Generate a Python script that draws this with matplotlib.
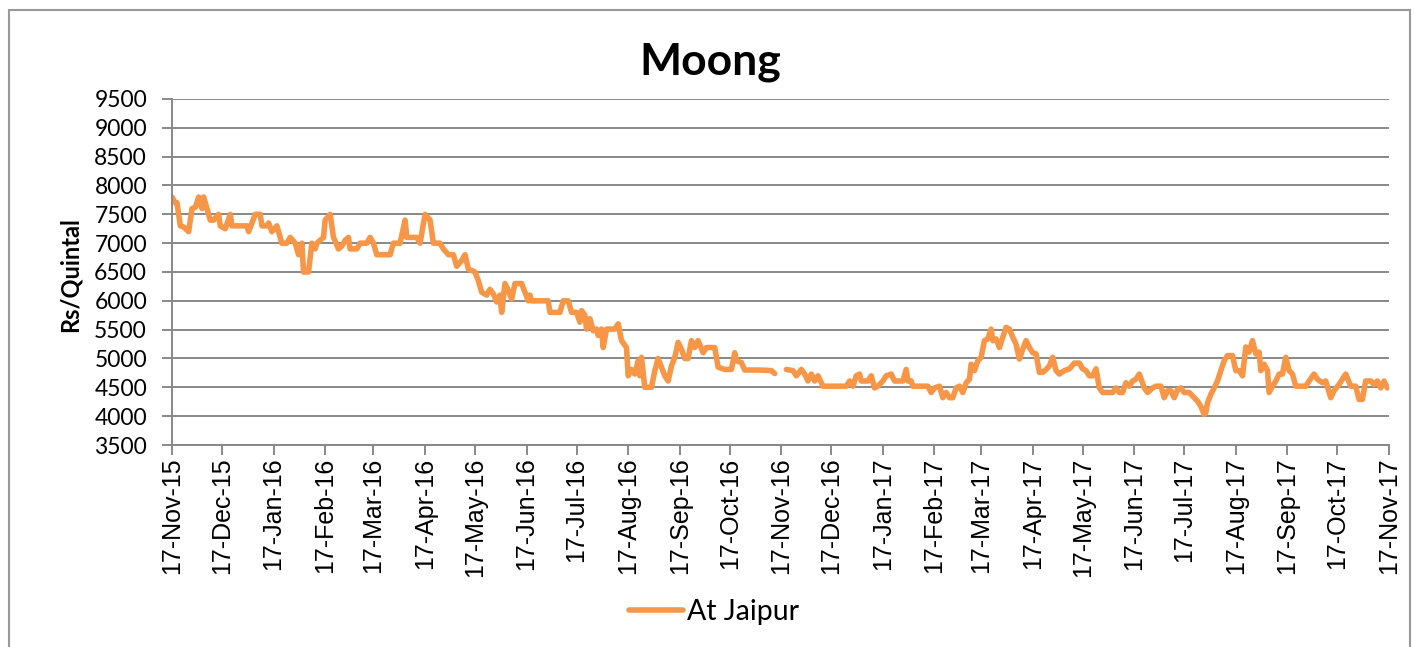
import pandas as pd
import matplotlib.pyplot as plt
from matplotlib.patches import Rectangle

# === DATI (giorni dal 17-Nov-15, Rs/Quintal) ===
start = pd.Timestamp("2015-11-17")

days_a = [0, 1, 2, 3, 5, 7, 10, 12, 14, 16, 18, 19, 23, 25, 28, 29, 32, 35, 36, 45,
          46, 50, 53, 54, 57, 58, 60, 63, 66, 69, 71, 74, 76, 78, 79, 82, 84, 86, 87, 89,
          91, 92, 95, 97, 100, 102, 104, 106, 107, 111, 113, 117, 119, 121, 123, 131, 133, 137, 140, 141,
          147, 149, 152, 155, 157, 161, 163, 166, 169, 171, 174, 176, 178, 182, 184, 186, 189, 191, 193, 195,
          197, 198, 200, 202, 204, 206, 210, 212, 214, 215, 216, 226, 227, 233, 235, 238, 240, 243, 245, 246,
          248, 249, 251, 253, 255, 256, 258, 259, 261, 266, 268, 270, 273, 274, 276, 278, 280, 281, 282, 284,
          288, 290, 292, 294, 296, 298, 300, 302, 304, 306, 308, 310, 312, 314, 316, 319, 321, 326, 328, 332,
          336, 338, 339, 342, 344, 353, 360, 362]
price_a = [7800, 7750, 7700, 7700, 7300, 7280, 7200, 7600, 7620, 7800, 7600, 7800, 7400, 7400, 7500, 7300, 7250, 7500, 7300, 7300,
           7200, 7500, 7500, 7300, 7300, 7350, 7200, 7300, 7000, 7000, 7100, 7000, 6800, 7000, 6500, 6500, 7000, 6900, 7000, 7050,
           7100, 7400, 7500, 7100, 6900, 6950, 7050, 7100, 6900, 6900, 7000, 7000, 7100, 7000, 6800, 6800, 7000, 7000, 7400, 7100,
           7100, 7000, 7500, 7400, 7000, 7000, 6900, 6800, 6800, 6600, 6700, 6800, 6550, 6500, 6350, 6150, 6100, 6200, 6120, 5980,
           6100, 5800, 6300, 6180, 6030, 6300, 6300, 6150, 6000, 6100, 6000, 6000, 5800, 5800, 6000, 6000, 5800, 5800, 5630, 5830,
           5750, 5510, 5690, 5480, 5510, 5400, 5510, 5190, 5510, 5510, 5600, 5310, 5190, 4700, 4810, 4730, 4960, 4700, 5020, 4500,
           4500, 4790, 5000, 4850, 4700, 4610, 4870, 5020, 5280, 5160, 5000, 5000, 5310, 5190, 5310, 5100, 5190, 5190, 4850, 4810,
           4810, 5100, 4960, 4930, 4800, 4800, 4790, 4740]

days_b = [369, 373, 375, 378, 380, 382, 384, 386, 388, 391, 405, 407, 409, 411, 413, 414, 418, 420, 422, 424,
          427, 429, 432, 434, 439, 441, 442, 444, 445, 454, 456, 458, 461, 463, 465, 467, 469, 471, 473, 475,
          477, 479, 480, 482, 484, 486, 488, 490, 492, 493, 495, 497, 499, 501, 503, 505, 507, 509, 511, 513,
          515, 517, 519, 521, 523, 525, 527, 529, 531, 533, 536, 539, 542, 545, 547, 549, 551, 553, 555, 557,
          559, 565, 567, 569, 571, 573, 575, 577, 579, 581, 584, 586, 589, 591, 594, 596, 598, 600, 602, 604,
          606, 608, 611, 613, 616, 618, 620, 621, 622, 624, 626, 628, 630, 632, 634, 637, 639, 641, 643, 645,
          647, 649, 651, 653, 654, 656, 658, 659, 661, 663, 665, 667, 669, 671, 673, 675, 681, 683, 686, 688,
          691, 693, 696, 698, 701, 705, 708, 711, 713, 715, 717, 720, 722, 724, 726, 728, 730]
price_b = [4810, 4790, 4700, 4810, 4730, 4610, 4730, 4610, 4700, 4520, 4520, 4610, 4520, 4700, 4730, 4610, 4610, 4700, 4490, 4520,
           4610, 4700, 4730, 4610, 4610, 4810, 4610, 4610, 4520, 4520, 4410, 4490, 4520, 4320, 4410, 4320, 4320, 4490, 4520, 4410,
           4580, 4640, 4900, 4790, 4960, 5020, 5310, 5340, 5510, 5310, 5340, 5190, 5370, 5540, 5510, 5370, 5250, 4990, 5160, 5310,
           5190, 5100, 5080, 4760, 4760, 4810, 4870, 5020, 4790, 4730, 4790, 4820, 4920, 4920, 4820, 4790, 4700, 4700, 4820, 4490,
           4410, 4410, 4490, 4410, 4410, 4580, 4520, 4610, 4640, 4730, 4490, 4410, 4490, 4520, 4520, 4320, 4440, 4440, 4320, 4460,
           4490, 4410, 4410, 4350, 4260, 4170, 4030, 4060, 4230, 4380, 4490, 4610, 4790, 4960, 5050, 5050, 4790, 4790, 4700, 5200,
           5110, 5310, 5080, 5110, 4790, 4900, 4790, 4410, 4520, 4610, 4730, 4730, 5020, 4790, 4730, 4520, 4520, 4610, 4730, 4640,
           4580, 4610, 4320, 4440, 4550, 4730, 4520, 4520, 4290, 4290, 4610, 4610, 4550, 4610, 4490, 4610, 4490]

# date in formato datetime
date_a = start + pd.to_timedelta(days_a, unit="D")
date_b = start + pd.to_timedelta(days_b, unit="D")
mesi = pd.date_range("2015-11-01", "2017-11-01", freq="MS") + pd.Timedelta(days=16)

ARANCIO = "#F79646"
GRIGIO = "#888888"

fig = plt.figure(figsize=(14.14, 6.47), dpi=100)
ax = fig.add_axes([172 / 1414, 1 - 445 / 647, (1389 - 172) / 1414, (445 - 99) / 647])

ax.plot(date_a, price_a, color=ARANCIO, linewidth=4, solid_joinstyle="round",
        solid_capstyle="round", label="At Jaipur")
ax.plot(date_b, price_b, color=ARANCIO, linewidth=4, solid_joinstyle="round",
        solid_capstyle="round")

ax.set_xlim(mesi[0], mesi[-1])
ax.set_ylim(3500, 9500)
ax.set_yticks(range(3500, 10000, 500))
ax.set_xticks(mesi)
ax.set_xticklabels([d.strftime("%d-%b-%y") for d in mesi], rotation=90,
                   family="Liberation Sans", fontsize=18)
for lbl in ax.get_yticklabels():
    lbl.set_family("Lato")
    lbl.set_fontsize(16.5)

ax.grid(axis="y", color=GRIGIO, linewidth=1.4)
ax.set_axisbelow(True)
for s in ["top", "right"]:
    ax.spines[s].set_visible(False)
for s in ["left", "bottom"]:
    ax.spines[s].set_color(GRIGIO)
    ax.spines[s].set_linewidth(1.4)
ax.tick_params(axis="both", color=GRIGIO, width=1.4, length=7)
ax.tick_params(axis="y", pad=11)
ax.tick_params(axis="x", pad=2)

ax.set_ylabel("Rs/Quintal", family="Lato", fontweight="bold", fontsize=17)
ax.yaxis.set_label_coords(-90 / 1217, 0.494)
fig.text(710 / 1414, 1 - 62 / 647, "Moong", ha="center", va="center",
         family="Lato", fontweight="bold", fontsize=32)

fig.legend(loc="center", bbox_to_anchor=(714 / 1414, 1 - 612 / 647), frameon=False,
           prop={"family": "Lato", "size": 20.5}, handlelength=1.9, handletextpad=0.15)

# cornice esterna
fig.patches.append(Rectangle((9 / 1414, -0.05), (1410 - 9) / 1414, 1.05 - 10 / 647,
                             transform=fig.transFigure, fill=False, edgecolor="#999999", linewidth=1.5))

fig.savefig("out.png", dpi=100)
plt.close(fig)
